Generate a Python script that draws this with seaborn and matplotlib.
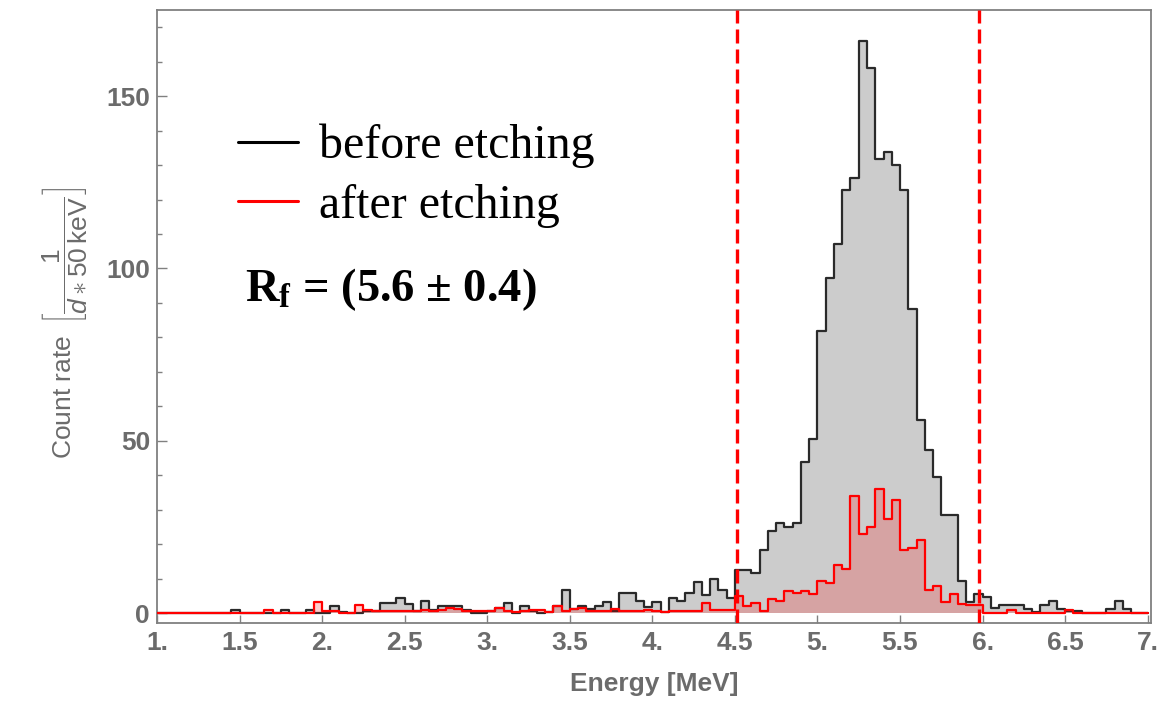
import numpy as np
import pandas as pd
import matplotlib
matplotlib.use("Agg")
import matplotlib.pyplot as plt
import seaborn as sns
from matplotlib.ticker import FixedLocator, FixedFormatter, MultipleLocator
from matplotlib.lines import Line2D

# ---------------- data ----------------
bin_start = 1.0      # MeV
bin_width = 0.05     # MeV (50 keV bins)

# count rate per bin, before etching (bins from 1.00 to 7.00 MeV)
before_etching = [
    0, 0, 0, 0, 0, 0, 0, 0, 0, 1, 0, 0, 0, 0, 0, 1, 0, 0, 1, 0,
    0, 2, 0.3, 0, 0, 0.5, 0.5, 3, 3, 4.4, 2.6, 0.5, 3.4, 1, 2, 2, 2, 0.8, 0, 0,
    0.5, 1.5, 3, 0, 2, 0.5, 0, 0.3, 2, 6.7, 1.2, 2, 1.2, 2, 3.3, 0.5, 5.9, 5.9, 3.5, 1.8,
    3.3, 0.3, 4.3, 3.5, 5.7, 9, 5.3, 10, 6.6, 4.5, 12.6, 12.6, 11.5, 18.3, 23.9, 26.1, 25, 26.1, 43.9, 50.6,
    81.7, 97.2, 107.2, 122.8, 126.1, 166, 158.3, 131.7, 133.9, 130, 122.8, 88.3, 56.1, 47.2, 39.4, 28.3, 28.3, 9.2, 3.3, 5.6,
    4.6, 1.5, 2.3, 2.3, 2.3, 1.2, 0.2, 2.4, 3.4, 1.2, 0.7, 0.7, 0, 0, 0, 1.2, 3.4, 1.2, 0, 0,
]

# count rate per bin, after etching
after_etching = [
    0, 0, 0, 0, 0, 0, 0, 0, 0, 0, 0, 0, 0, 1, 0, 0, 0, 0, 0, 3.1,
    0.7, 0.7, 0, 0, 2.2, 1, 0.5, 0.5, 0.7, 0.7, 0.7, 0.5, 0.8, 0.5, 0.8, 1.4, 1.2, 0.6, 0.5, 0.5,
    0.5, 1.5, 0.5, 0.3, 0.5, 1, 0.8, 0.3, 2, 0.5, 1.2, 1.5, 0.7, 0.5, 0.5, 1.2, 0.5, 0.5, 0.5, 1,
    0.5, 0.3, 0.5, 0.5, 0.5, 0.5, 3, 1, 1, 1, 5, 2, 3, 0.5, 4.2, 3.5, 6.3, 5.8, 6.5, 5.6,
    9.2, 8.8, 13.9, 12.8, 33.9, 22.8, 25, 36.1, 27.2, 32.8, 18.3, 18.9, 21.1, 6.7, 7.8, 3.3, 5.4, 2.5, 2.2, 2.2,
    0, 0, 0, 0.9, 0, 0, 0, 0, 0, 0, 0.9, 0, 0, 0, 0, 0, 0, 0, 0, 0,
]

cut_low = 4.51
cut_high = 5.98

x_ticks = [1.0, 1.5, 2.0, 2.5, 3.0, 3.5, 4.0, 4.5, 5.0, 5.5, 6.0, 6.5, 7.0]
x_tick_labels = ["1.", "1.5", "2.", "2.5", "3.", "3.5", "4.", "4.5", "5.", "5.5", "6.", "6.5", "7."]
y_ticks = [0, 50, 100, 150]
y_tick_labels = ["0", "50", "100", "150"]
legend_labels = ["before etching", "after etching"]
series_colors = ["black", "#ff0000"]
rf_label = r"$\mathbf{R_f}$ = (5.6 ± 0.4)"

# ---------------- style ----------------
sns.set_style("white")
plt.rcParams["font.family"] = ["Liberation Sans", "DejaVu Sans"]
plt.rcParams["mathtext.fontset"] = "custom"
plt.rcParams["mathtext.rm"] = "Liberation Sans"
plt.rcParams["mathtext.it"] = "Liberation Sans:italic"
plt.rcParams["mathtext.bf"] = "Liberation Serif:bold"

gray = "#6b6b6b"
frame_gray = "#808080"

edges = [float(e) for e in bin_start + bin_width * np.arange(len(before_etching) + 1)]
centers = [e + bin_width / 2 for e in edges[:-1]]
df = pd.DataFrame({"energy": centers, "before": before_etching, "after": after_etching})

W, H = 1163, 702
fig = plt.figure(figsize=(W / 100, H / 100), dpi=100)
ax = fig.add_axes([157 / W, 79 / H, 994 / W, 613 / H])

# before etching: gray fill + dark outline
sns.histplot(data=df, x="energy", weights="before", bins=edges, element="step",
             fill=True, color="#cccccc", alpha=1.0, linewidth=0, ax=ax, zorder=1)
sns.histplot(data=df, x="energy", weights="before", bins=edges, element="step",
             fill=False, color="#2a2a2a", linewidth=1.6, ax=ax, zorder=2)
# after etching: translucent red fill + red outline
sns.histplot(data=df, x="energy", weights="after", bins=edges, element="step",
             fill=True, color="#ff0000", alpha=0.2, linewidth=0, ax=ax, zorder=3)
sns.histplot(data=df, x="energy", weights="after", bins=edges, element="step",
             fill=False, color="#ff0000", linewidth=1.6, ax=ax, zorder=4)

for xc in (cut_low, cut_high):
    ax.axvline(xc, color="#ff0000", linewidth=2.4, linestyle=(0, (4.2, 1.8)), zorder=5)

ax.set_xlim(1.0, 7.02)
ax.set_ylim(-2.9, 175)

ax.xaxis.set_major_locator(FixedLocator(x_ticks))
ax.xaxis.set_major_formatter(FixedFormatter(x_tick_labels))
ax.yaxis.set_major_locator(FixedLocator(y_ticks))
ax.yaxis.set_major_formatter(FixedFormatter(y_tick_labels))
ax.yaxis.set_minor_locator(MultipleLocator(10))

ax.tick_params(axis="both", which="both", direction="in", colors=frame_gray,
               labelcolor=gray, labelsize=19, width=1.0)
ax.tick_params(axis="x", which="major", length=6, pad=6, bottom=True, top=False)
ax.tick_params(axis="y", which="major", length=7, pad=5, left=True, right=False)
ax.tick_params(axis="y", which="minor", length=3.5, left=True, right=False)
for lab in ax.get_xticklabels() + ax.get_yticklabels():
    lab.set_fontweight("bold")

for sp in ax.spines.values():
    sp.set_color(frame_gray)
    sp.set_linewidth(1.3)
    sp.set_visible(True)

ax.set_xlabel("Energy [MeV]", fontsize=19, fontweight="bold", color=gray, labelpad=12)
ax.set_ylabel(r"Count rate $\,\left[\dfrac{1}{d\ast50\,\mathrm{keV}}\right]$",
              fontsize=19, fontweight="normal", color=gray)
ax.yaxis.set_label_coords(-0.067, 0.49)

# legend
handles = [Line2D([0], [0], color=c, linewidth=2.2) for c in series_colors]
leg = fig.legend(handles, legend_labels, loc="upper left",
                 bbox_to_anchor=(238 / W, 1 - 124 / H), bbox_transform=fig.transFigure,
                 frameon=False, prop={"family": "Liberation Serif", "size": 34.5},
                 handlelength=1.25, handletextpad=0.45, labelspacing=0.32,
                 borderpad=0, borderaxespad=0, labelcolor="black")

fig.text(245 / W, 1 - 290 / H, rf_label, fontsize=33.5, fontweight="bold",
         family="Liberation Serif", color="black", va="center", ha="left")

fig.savefig("out.png", dpi=100, facecolor="white")
